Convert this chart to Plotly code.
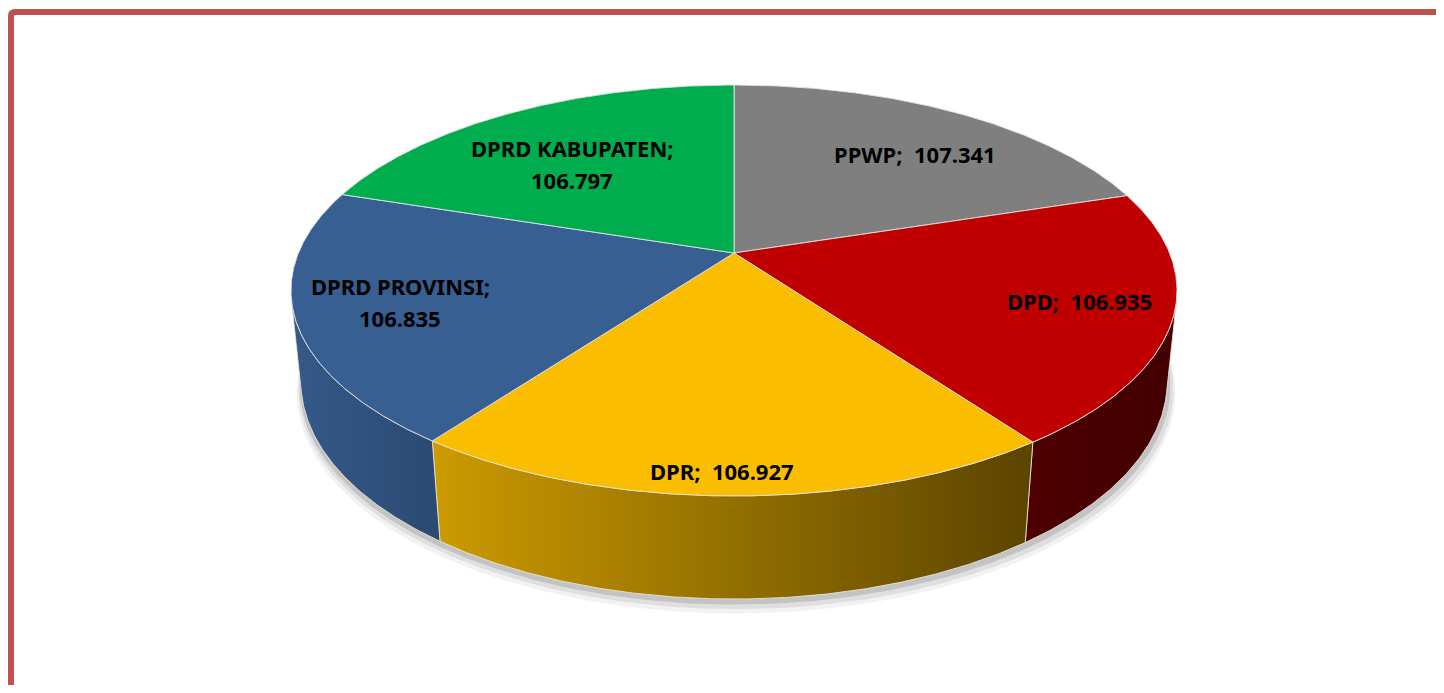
import numpy as np
import plotly.graph_objects as go

# ---------------- data ----------------
categories = ["PPWP", "DPD", "DPR", "DPRD PROVINSI", "DPRD KABUPATEN"]
values = [107341, 106935, 106927, 106835, 106797]

# ---------------- style ----------------
top_colors = ["#7F7F7F", "#C00000", "#FBBD00", "#385F91", "#00AD4E"]
side_colors = [("#5A5A5A", "#404040"), ("#4E0000", "#420000"),
               ("#CC9B00", "#5B4400"), ("#36598A", "#2B4A72"),
               ("#007A36", "#005A28")]
label_r = [0.68, 0.78, 0.915, 0.77, 0.60]
label_dx = [22, 8, -10, 0, -21]
label_dy = [0, -3, 0, 0, 0]
label_wrap = [False, False, False, True, True]
FONT = "Noto Sans"
FONT_SIZE = 22

# camera / projection parameters (pixel space)
ELEV = np.radians(27.13)
DIST = 4.880
FOCAL = 2125.7
THICK = 0.2372
CX, CY = 734.0, 253.0
S, C = np.sin(ELEV), np.cos(ELEV)


def project(theta_deg, r, z):
    t = np.radians(np.asarray(theta_deg, dtype=float))
    X = r * np.sin(t)
    Y = r * np.cos(t)
    depth = DIST + Y * C - z * S
    sx = FOCAL * X / depth
    sy = FOCAL * (Y * S + z * C) / depth
    return CX + sx, CY - sy


def fmt(v):
    return f"{v:,}".replace(",", ".")


total = float(sum(values))
bounds = np.concatenate([[0.0], np.cumsum(values) / total * 360.0])

fig = go.Figure()

# soft shadow under the cylinder
full = np.linspace(0, 360, 721)
for (ox, oy, sc, a) in [(2, 10, 1.014, 0.05), (2, 7, 1.010, 0.08), (1, 4, 1.005, 0.12)]:
    bx, by = project(full, sc, -THICK)
    fig.add_trace(go.Scatter(x=bx + ox, y=by + oy, mode="lines", fill="toself",
                             fillcolor=f"rgba(0,0,0,{a})", line=dict(width=0),
                             hoverinfo="skip", showlegend=False))

# visible side walls
vis_lo = np.degrees(np.arccos(-1.0 / (DIST * C)))
vis_hi = 360.0 - vis_lo
for i in range(len(values)):
    a0 = max(bounds[i], vis_lo)
    a1 = min(bounds[i + 1], vis_hi)
    if a1 <= a0:
        continue
    th = np.linspace(a0, a1, max(int((a1 - a0) * 3), 4))
    tx, ty = project(th, 1.0, 0.0)
    bx, by = project(th[::-1], 1.0, -THICK)
    xs = np.concatenate([tx, bx, tx[:1]])
    ys = np.concatenate([ty, by, ty[:1]])
    c0, c1 = side_colors[i]
    fig.add_trace(go.Scatter(
        x=xs, y=ys, mode="lines", fill="toself",
        fillgradient=dict(type="horizontal", colorscale=[[0, c0], [1, c1]]),
        line=dict(color="rgba(235,230,215,0.85)", width=1),
        hoverinfo="skip", showlegend=False))

# top faces
for i in range(len(values)):
    a0, a1 = bounds[i], bounds[i + 1]
    th = np.linspace(a0, a1, max(int((a1 - a0) * 3), 4))
    ax, ay = project(th, 1.0, 0.0)
    ox, oy = project([0.0], 0.0, 0.0)
    xs = np.concatenate([ox, ax, ox])
    ys = np.concatenate([oy, ay, oy])
    fig.add_trace(go.Scatter(
        x=xs, y=ys, mode="lines", fill="toself", fillcolor=top_colors[i],
        line=dict(color="rgba(225,225,225,0.9)", width=1),
        hoverinfo="skip", showlegend=False, name=categories[i]))

# data labels
for i in range(len(values)):
    mid = (bounds[i] + bounds[i + 1]) / 2.0
    lx, ly = project([mid], label_r[i], 0.0)
    lx = float(lx[0]) + label_dx[i]
    ly = float(ly[0]) + label_dy[i]
    if label_wrap[i]:
        lines = [categories[i] + ";", fmt(values[i])]
        offs = [-16, 16]
    else:
        lines = [categories[i] + "; \u00a0" + fmt(values[i])]
        offs = [0]
    for txt, off in zip(lines, offs):
        fig.add_annotation(x=lx, y=ly + off, xref="x", yref="y", text=f"<b>{txt}</b>",
                           showarrow=False, xanchor="center", yanchor="middle",
                           font=dict(family=FONT, size=FONT_SIZE, color="black"))

# outer border: only the left and top edges fall inside the page
fig.add_shape(type="path", xref="x", yref="y",
              path="M 11,700 L 11,16 Q 11,12 15,12 L 1500,12",
              line=dict(color="#C0504D", width=6), layer="above")

fig.update_layout(
    width=1428, height=677, margin=dict(l=0, r=0, t=0, b=0),
    paper_bgcolor="white", plot_bgcolor="white",
    xaxis=dict(range=[8, 1436], visible=False, fixedrange=True),
    yaxis=dict(range=[685, 8], visible=False, fixedrange=True),
    showlegend=False,
)

fig.write_html("out.html")
